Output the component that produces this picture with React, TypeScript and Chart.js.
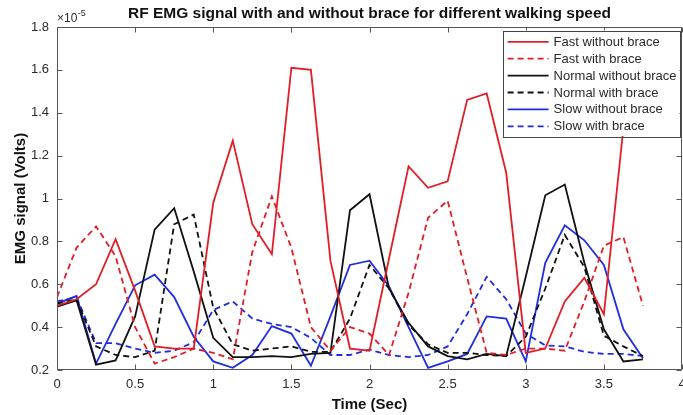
import { useEffect, useRef } from "react";
import { Chart, registerables } from "chart.js";

Chart.register(...registerables);

// ---- data (values in units of 1e-5 Volts) ----
const TIME = [0, 0.125, 0.25, 0.375, 0.5, 0.625, 0.75, 0.875, 1, 1.125, 1.25, 1.375, 1.5, 1.625, 1.75, 1.875, 2, 2.125, 2.25, 2.375, 2.5, 2.625, 2.75, 2.875, 3, 3.125, 3.25, 3.375, 3.5, 3.625, 3.75];

const FAST_WITHOUT = [0.5, 0.53, 0.6, 0.81, 0.57, 0.31, 0.3, 0.3, 0.98, 1.27, 0.88, 0.74, 1.61, 1.6, 0.71, 0.3, 0.29, 0.72, 1.15, 1.05, 1.08, 1.46, 1.49, 1.12, 0.28, 0.3, 0.52, 0.63, 0.46, 1.33, null];
const FAST_WITH = [0.54, 0.77, 0.87, 0.73, 0.4, 0.23, 0.26, 0.3, 0.28, 0.25, 0.75, 1.01, 0.77, 0.4, 0.29, 0.4, 0.37, 0.27, 0.56, 0.91, 0.99, 0.63, 0.28, 0.27, 0.3, 0.3, 0.29, 0.52, 0.78, 0.82, 0.5];
const NORMAL_WITHOUT = [0.495, 0.525, 0.225, 0.245, 0.45, 0.855, 0.955, 0.66, 0.35, 0.26, 0.26, 0.265, 0.26, 0.275, 0.28, 0.945, 1.02, 0.58, 0.42, 0.31, 0.265, 0.25, 0.275, 0.265, 0.635, 1.015, 1.065, 0.7, 0.39, 0.24, 0.25];
const NORMAL_WITH = [0.51, 0.53, 0.31, 0.27, 0.26, 0.29, 0.88, 0.925, 0.49, 0.32, 0.29, 0.3, 0.31, 0.285, 0.285, 0.44, 0.69, 0.58, 0.41, 0.32, 0.28, 0.28, 0.27, 0.265, 0.355, 0.58, 0.83, 0.68, 0.36, 0.31, 0.265];
const SLOW_WITHOUT = [0.51, 0.545, 0.23, 0.415, 0.595, 0.645, 0.54, 0.355, 0.24, 0.21, 0.27, 0.405, 0.37, 0.22, 0.45, 0.69, 0.71, 0.59, 0.4, 0.21, 0.24, 0.275, 0.45, 0.44, 0.24, 0.7, 0.875, 0.805, 0.69, 0.39, 0.255];
const SLOW_WITH = [0.52, 0.54, 0.325, 0.325, 0.3, 0.28, 0.29, 0.33, 0.48, 0.52, 0.44, 0.415, 0.4, 0.35, 0.27, 0.27, 0.295, 0.27, 0.26, 0.27, 0.31, 0.46, 0.635, 0.53, 0.37, 0.315, 0.31, 0.285, 0.275, 0.275, 0.265];

const SERIES_LABELS = ["Fast without brace", "Fast with brace", "Normal without brace", "Normal with brace", "Slow without brace", "Slow with brace"];
const X_TICKS = [0, 0.5, 1, 1.5, 2, 2.5, 3, 3.5, 4];
const Y_TICKS = [0.2, 0.4, 0.6, 0.8, 1, 1.2, 1.4, 1.6, 1.8];
const EXPONENT_LABEL = "-5";
const TITLE = "RF EMG signal with and without brace for different walking speed";
const X_TITLE = "Time (Sec)";
const Y_TITLE = "EMG signal (Volts)";

const RED = "rgb(226,30,36)";
const BLACK = "#111111";
const BLUE = "rgb(30,45,225)";
const AXIS_COLOR = "#555555";
const TEXT_COLOR = "#2a2a2a";
const FONT = "'Liberation Sans', Arial, Helvetica, sans-serif";
const DASH = [6, 4];

const SERIES = [
  { values: FAST_WITHOUT, color: RED, dashed: false },
  { values: FAST_WITH, color: RED, dashed: true },
  { values: NORMAL_WITHOUT, color: BLACK, dashed: false },
  { values: NORMAL_WITH, color: BLACK, dashed: true },
  { values: SLOW_WITHOUT, color: BLUE, dashed: false },
  { values: SLOW_WITH, color: BLUE, dashed: true },
];

const fmt = (v: number) => String(Math.round(v * 100) / 100);

const framePlugin = {
  id: "frame",
  afterDatasetsDraw(chart: any) {
    const { ctx, chartArea, scales } = chart;
    const { left, right, top, bottom } = chartArea;
    const x = scales.x;
    const y = scales.y;
    ctx.save();
    ctx.strokeStyle = AXIS_COLOR;
    ctx.lineWidth = 1;
    ctx.setLineDash([]);
    const L = Math.round(left) + 0.5;
    const R = Math.round(right) - 0.5;
    const T = Math.round(top) + 0.5;
    const B = Math.round(bottom) - 0.5;
    ctx.beginPath();
    ctx.rect(L, T, R - L, B - T);
    const tl = 5;
    X_TICKS.forEach((v) => {
      const px = Math.round(x.getPixelForValue(v)) + 0.5;
      ctx.moveTo(px, B);
      ctx.lineTo(px, B - tl);
      ctx.moveTo(px, T);
      ctx.lineTo(px, T + tl);
    });
    Y_TICKS.forEach((v) => {
      const py = Math.round(y.getPixelForValue(v)) + 0.5;
      ctx.moveTo(L, py);
      ctx.lineTo(L + tl, py);
      ctx.moveTo(R, py);
      ctx.lineTo(R - tl, py);
    });
    ctx.stroke();
    ctx.restore();
  },
};

const textPlugin = {
  id: "texts",
  afterDraw(chart: any) {
    const { ctx, chartArea } = chart;
    const { left, right, top } = chartArea;
    ctx.save();
    // title
    ctx.fillStyle = "#111";
    ctx.font = `bold 15.5px ${FONT}`;
    ctx.textAlign = "center";
    ctx.textBaseline = "middle";
    ctx.fillText(TITLE, (left + right) / 2, 14);
    // exponent
    ctx.fillStyle = TEXT_COLOR;
    ctx.textAlign = "left";
    ctx.textBaseline = "alphabetic";
    ctx.font = `12px ${FONT}`;
    const base = "\u00d710";
    ctx.fillText(base, left, top - 5);
    const w = ctx.measureText(base).width;
    ctx.font = `9px ${FONT}`;
    ctx.fillText(EXPONENT_LABEL, left + w + 0.5, top - 11);

    // legend
    const boxR = right - 2.5;
    const boxL = boxR - 176.5;
    const boxT = top + 3.5;
    const rowH = 16.9;
    const boxH = 105.5;
    ctx.fillStyle = "#ffffff";
    ctx.fillRect(boxL, boxT, boxR - boxL, boxH);
    ctx.strokeStyle = "#444";
    ctx.lineWidth = 1;
    ctx.strokeRect(Math.round(boxL) + 0.5, Math.round(boxT) + 0.5, Math.round(boxR - boxL), Math.round(boxH));
    ctx.font = `13px ${FONT}`;
    ctx.textBaseline = "middle";
    SERIES.forEach((s, i) => {
      const cy = boxT + 11.3 + i * rowH;
      ctx.strokeStyle = s.color;
      ctx.lineWidth = 1.8;
      ctx.setLineDash(s.dashed ? DASH : []);
      ctx.beginPath();
      ctx.moveTo(boxL + 4.6, cy);
      ctx.lineTo(boxL + 45.6, cy);
      ctx.stroke();
      ctx.setLineDash([]);
      ctx.fillStyle = TEXT_COLOR;
      ctx.fillText(SERIES_LABELS[i], boxL + 50.6, cy + 0.5);
    });
    ctx.restore();
  },
};

export default function App() {
  const ref = useRef<HTMLCanvasElement | null>(null);
  useEffect(() => {
    if (!ref.current) return;
    Chart.defaults.font.family = FONT;
    const chart = new Chart(ref.current, {
      type: "line",
      data: {
        datasets: SERIES.map((s, i) => ({
          label: SERIES_LABELS[i],
          data: TIME.map((t, j) => ({ x: t, y: s.values[j] })),
          borderColor: s.color,
          backgroundColor: s.color,
          borderWidth: 1.8,
          borderDash: s.dashed ? DASH : [],
          pointRadius: 0,
          fill: false,
          tension: 0,
          spanGaps: false,
        })),
      },
      options: {
        responsive: false,
        animation: false,
        devicePixelRatio: 1,
        layout: { autoPadding: false, padding: { top: 27, right: 1, left: 0, bottom: 0 } },
        plugins: {
          legend: { display: false },
          title: { display: false },
          tooltip: { enabled: false },
        },
        scales: {
          x: {
            type: "linear",
            min: 0,
            max: 4,
            afterFit: (scale: any) => {
              scale.height = 45;
              scale.paddingLeft = 0;
              scale.paddingRight = 0;
            },
            afterBuildTicks: (scale: any) => {
              scale.ticks = X_TICKS.map((v) => ({ value: v }));
            },
            grid: { display: false, drawTicks: false },
            border: { display: false },
            ticks: {
              padding: 7,
              color: TEXT_COLOR,
              font: { size: 13 },
              maxRotation: 0,
              autoSkip: false,
              callback: (v: any) => fmt(Number(v)),
            },
            title: {
              display: true,
              text: X_TITLE,
              color: "#111",
              font: { size: 15, weight: "bold" },
              padding: { top: 0, bottom: 1 },
            },
          },
          y: {
            type: "linear",
            min: 0.2,
            max: 1.8,
            afterFit: (scale: any) => {
              scale.width = 57;
              scale.paddingTop = 0;
              scale.paddingBottom = 0;
            },
            afterBuildTicks: (scale: any) => {
              scale.ticks = Y_TICKS.map((v) => ({ value: v }));
            },
            grid: { display: false, drawTicks: false },
            border: { display: false },
            ticks: {
              padding: 8,
              color: TEXT_COLOR,
              font: { size: 13 },
              autoSkip: false,
              callback: (v: any) => fmt(Number(v)),
            },
            title: {
              display: true,
              text: Y_TITLE,
              color: "#111",
              font: { size: 15, weight: "bold" },
              padding: { top: 12, bottom: 0 },
            },
          },
        },
      },
      plugins: [framePlugin, textPlugin],
    } as any);
    return () => chart.destroy();
  }, []);
  return (
    <div style={{ position: "fixed", left: 0, top: 0, width: 683, height: 415, background: "#fff" }}>
      <canvas ref={ref} width={683} height={415} style={{ display: "block", width: 683, height: 415 }} />
    </div>
  );
}
